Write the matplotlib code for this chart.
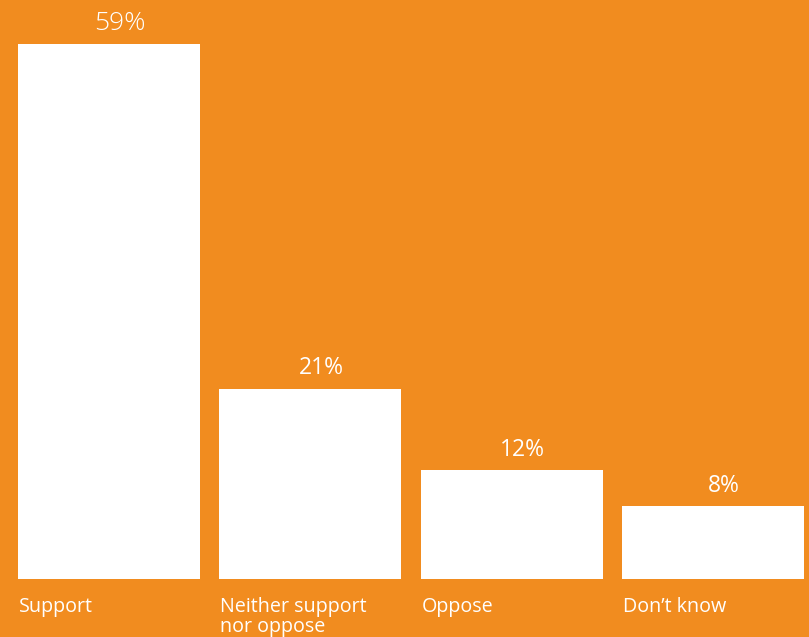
import matplotlib.pyplot as plt

# Respuestas de la encuesta
categorias = ["Support", "Neither support\nnor oppose", "Oppose", "Don\u2019t know"]
valores = [59, 21, 12, 8]
etiquetas = ["59%", "21%", "12%", "8%"]

naranja = "#F18C1F"
ancho = 0.904

fig = plt.figure(figsize=(8.09, 6.37), dpi=100, facecolor=naranja)
ax = fig.add_axes([18 / 809, 1 - 579 / 637, 786 / 809, (579 - 44) / 637])
ax.set_facecolor(naranja)

pos = range(len(categorias))
ax.bar(pos, valores, width=ancho, color="white", edgecolor="none")

ax.set_xlim(-ancho / 2, len(categorias) - 1 + ancho / 2)
ax.set_ylim(0, valores[0])
ax.axis("off")

# Porcentajes encima de cada barra
for i, (v, txt) in enumerate(zip(valores, etiquetas)):
    tam = 19 if i == 0 else 16.5
    ax.annotate(txt, xy=(i, v), xytext=(8, 6), textcoords="offset points",
                ha="center", va="bottom", color="white", fontsize=tam,
                family="Open Sans", fontweight="light" if i == 0 else "normal")

# Nombres de las categorías debajo, alineados a la izquierda de cada barra
for i, nombre in enumerate(categorias):
    ax.annotate(nombre, xy=(i - ancho / 2, 0), xytext=(0.5, -13), textcoords="offset points",
                ha="left", va="top", color="white", fontsize=14.2,
                family="Open Sans", linespacing=1.0)

fig.savefig("out.png", dpi=100, facecolor=naranja)
